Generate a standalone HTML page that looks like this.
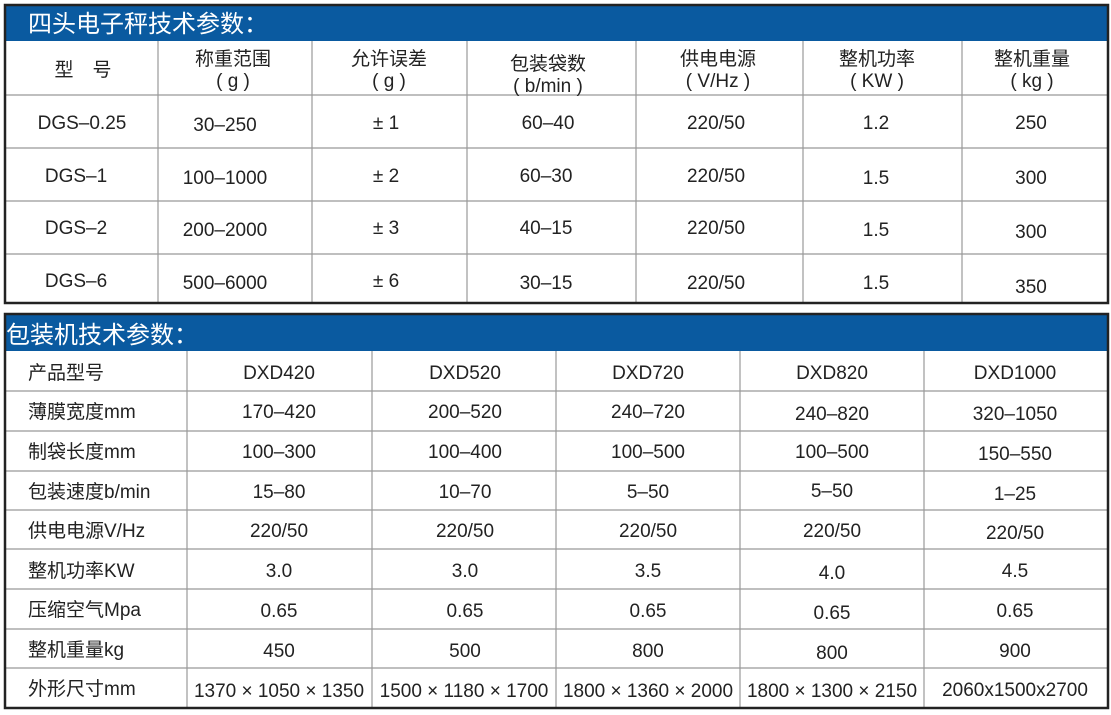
<!DOCTYPE html>
<html><head><meta charset="utf-8"><style>
html,body{margin:0;padding:0;background:#fff;width:1111px;height:715px;overflow:hidden}
svg text{font-family:"Liberation Sans","Noto Sans CJK SC",sans-serif;fill:#222;font-size:19px}
</style></head><body>
<svg width="1111" height="715" viewBox="0 0 1111 715" xmlns="http://www.w3.org/2000/svg">
<!-- Table 1 -->
<rect x="5" y="5" width="1103" height="36" fill="#0a5aa0"/>
<text x="28" y="32" style="fill:#fff;font-size:24px">四头电子秤技术参数：</text>
<g stroke="#999" stroke-width="1.2">
<line x1="5" y1="95" x2="1108" y2="95"/>
<line x1="5" y1="148" x2="1108" y2="148"/>
<line x1="5" y1="201" x2="1108" y2="201"/>
<line x1="5" y1="254" x2="1108" y2="254"/>
<line x1="158" y1="41" x2="158" y2="303"/>
<line x1="312" y1="41" x2="312" y2="303"/>
<line x1="467" y1="41" x2="467" y2="303"/>
<line x1="636" y1="41" x2="636" y2="303"/>
<line x1="803" y1="41" x2="803" y2="303"/>
<line x1="962" y1="41" x2="962" y2="303"/>
</g>
<rect x="5" y="5" width="1103" height="298" fill="none" stroke="#222" stroke-width="2.5"/>
<g text-anchor="middle">
<text x="83" y="76">型　号</text>
<text x="233" y="65">称重范围</text><text x="233" y="87">( g )</text>
<text x="389" y="65">允许误差</text><text x="389" y="87">( g )</text>
<text x="548" y="70">包装袋数</text><text x="548" y="92">( b/min )</text>
<text x="718" y="65">供电电源</text><text x="718" y="87">( V/Hz )</text>
<text x="877" y="65">整机功率</text><text x="877" y="87">( KW )</text>
<text x="1032" y="65">整机重量</text><text x="1032" y="87">( kg )</text>
<text x="82" y="129">DGS–0.25</text><text x="225" y="131">30–250</text><text x="386" y="129">± 1</text><text x="548" y="129">60–40</text><text x="716" y="129">220/50</text><text x="876" y="129">1.2</text><text x="1031" y="129">250</text>
<text x="76" y="182">DGS–1</text><text x="225" y="184">100–1000</text><text x="386" y="182">± 2</text><text x="546" y="182">60–30</text><text x="716" y="182">220/50</text><text x="876" y="184">1.5</text><text x="1031" y="184">300</text>
<text x="76" y="234">DGS–2</text><text x="225" y="236">200–2000</text><text x="386" y="234">± 3</text><text x="546" y="234">40–15</text><text x="716" y="234">220/50</text><text x="876" y="236">1.5</text><text x="1031" y="238">300</text>
<text x="76" y="287">DGS–6</text><text x="225" y="289">500–6000</text><text x="386" y="287">± 6</text><text x="546" y="289">30–15</text><text x="716" y="289">220/50</text><text x="876" y="289">1.5</text><text x="1031" y="293">350</text>
</g>
<!-- Table 2 -->
<rect x="5" y="314" width="1103" height="37" fill="#0a5aa0"/>
<text x="6" y="343" style="fill:#fff;font-size:24px">包装机技术参数：</text>
<g stroke="#999" stroke-width="1.2">
<line x1="5" y1="391" x2="1108" y2="391"/>
<line x1="5" y1="431" x2="1108" y2="431"/>
<line x1="5" y1="471" x2="1108" y2="471"/>
<line x1="5" y1="510" x2="1108" y2="510"/>
<line x1="5" y1="549" x2="1108" y2="549"/>
<line x1="5" y1="589" x2="1108" y2="589"/>
<line x1="5" y1="629" x2="1108" y2="629"/>
<line x1="5" y1="668" x2="1108" y2="668"/>
<line x1="187" y1="351" x2="187" y2="708"/>
<line x1="372" y1="351" x2="372" y2="708"/>
<line x1="556" y1="351" x2="556" y2="708"/>
<line x1="740" y1="351" x2="740" y2="708"/>
<line x1="924" y1="351" x2="924" y2="708"/>
</g>
<rect x="5" y="314" width="1103" height="394" fill="none" stroke="#222" stroke-width="2.5"/>
<g>
<text x="28" y="379">产品型号</text>
<text x="28" y="418">薄膜宽度mm</text>
<text x="28" y="458">制袋长度mm</text>
<text x="28" y="498">包装速度b/min</text>
<text x="28" y="537">供电电源V/Hz</text>
<text x="28" y="577">整机功率KW</text>
<text x="28" y="616">压缩空气Mpa</text>
<text x="28" y="656">整机重量kg</text>
<text x="28" y="695">外形尺寸mm</text>
</g>
<g text-anchor="middle">
<text x="279" y="379">DXD420</text><text x="465" y="379">DXD520</text><text x="648" y="379">DXD720</text><text x="832" y="379">DXD820</text><text x="1015" y="379">DXD1000</text>
<text x="279" y="418">170–420</text><text x="465" y="418">200–520</text><text x="648" y="418">240–720</text><text x="832" y="420">240–820</text><text x="1015" y="420">320–1050</text>
<text x="279" y="458">100–300</text><text x="465" y="458">100–400</text><text x="648" y="458">100–500</text><text x="832" y="458">100–500</text><text x="1015" y="460">150–550</text>
<text x="279" y="498">15–80</text><text x="465" y="498">10–70</text><text x="648" y="498">5–50</text><text x="832" y="497">5–50</text><text x="1015" y="500">1–25</text>
<text x="279" y="537">220/50</text><text x="465" y="537">220/50</text><text x="648" y="537">220/50</text><text x="832" y="537">220/50</text><text x="1015" y="539">220/50</text>
<text x="279" y="577">3.0</text><text x="465" y="577">3.0</text><text x="648" y="577">3.5</text><text x="832" y="579">4.0</text><text x="1015" y="577">4.5</text>
<text x="279" y="617">0.65</text><text x="465" y="617">0.65</text><text x="648" y="617">0.65</text><text x="832" y="619">0.65</text><text x="1015" y="617">0.65</text>
<text x="279" y="657">450</text><text x="465" y="657">500</text><text x="648" y="657">800</text><text x="832" y="659">800</text><text x="1015" y="657">900</text>
<text x="279" y="697">1370 × 1050 × 1350</text><text x="464" y="697">1500 × 1180 × 1700</text><text x="648" y="697">1800 × 1360 × 2000</text><text x="832" y="697">1800 × 1300 × 2150</text><text x="1015" y="696">2060x1500x2700</text>
</g>
</svg>
</body></html>
